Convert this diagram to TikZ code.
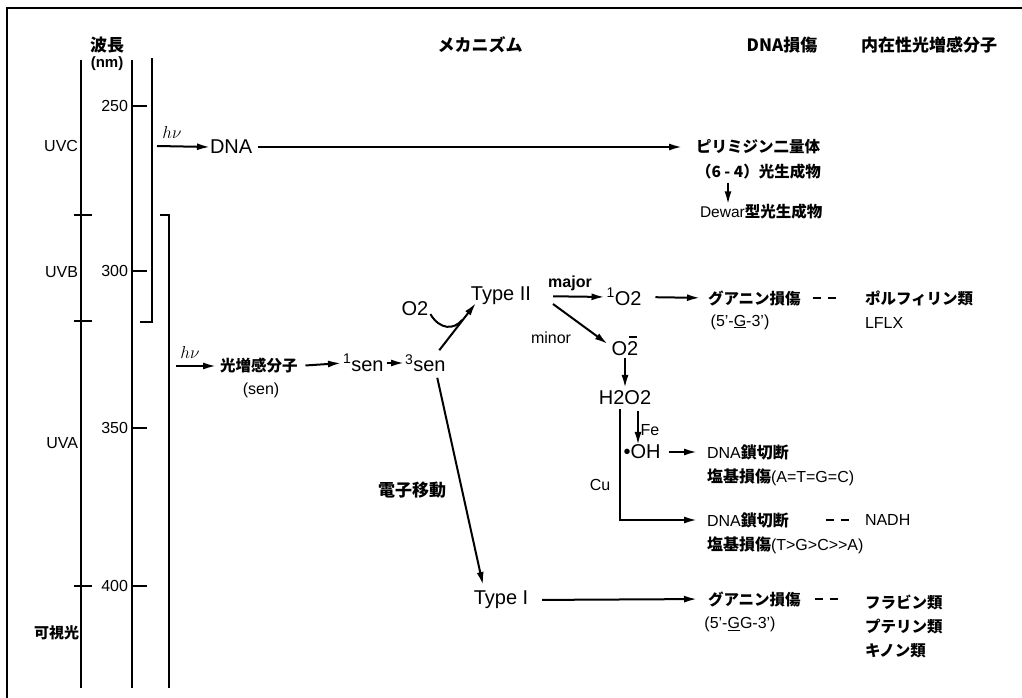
\documentclass[tikz,border=0pt]{standalone}
\usepackage{fontspec}
\setmainfont{Liberation Sans}
\newfontfamily\jp{Noto Sans CJK JP}
\usetikzlibrary{arrows.meta,calc}
\begin{document}
\begin{tikzpicture}[x=1pt,y=-1pt,
  every node/.style={inner sep=0pt,outer sep=0pt},
  ax/.style={line width=2.3pt},
  arr/.style={line width=2pt,-{Latex[length=13pt,width=7pt]}},
  dashpair/.style={line width=2pt,dash pattern=on 8pt off 7pt},
  bigt/.style={font=\fontsize{20}{24}\selectfont},
  midt/.style={font=\fontsize{16}{19}\selectfont},
  jt/.style={font=\fontsize{15.5}{18}\selectfont\jp\bfseries},
  hdr/.style={font=\fontsize{17}{20}\selectfont\jp\bfseries},
]
\useasboundingbox (0,0) rectangle (1022,698);
% frame
\draw[line width=1.8pt] (6,8) -- (1022,8);
\draw[line width=1.8pt] (7,8) -- (7,698);
% wavelength axis
\draw[ax] (81,60) -- (81,688);
\draw[ax] (132,60) -- (132,688);
\draw[ax] (140,322) -- (152,322) -- (152,58);
\draw[ax] (160,215) -- (169,215) -- (169,688);
\foreach \y in {215,321,586} \draw[line width=1.6pt] (74,\y) -- (92,\y);
\foreach \y in {106,271,428,586} \draw[ax] (132,\y) -- (147,\y);
\node[midt,anchor=east] (t250) at (128,106) {250};
\node[midt,anchor=east] (t300) at (128,271) {300};
\node[midt,anchor=east] (t350) at (128,428) {350};
\node[midt,anchor=east] (t400) at (128,586) {400};
\node[midt,anchor=east] (uvc) at (78,146) {UVC};
\node[midt,anchor=east] (uvb) at (78,272) {UVB};
\node[midt,anchor=east] (uva) at (78,443) {UVA};
\node[jt,font=\fontsize{15}{18}\selectfont\jp\bfseries,anchor=east] (vis) at (79,633) {可視光};
% headers
\node[hdr] (hwave) at (107,45) {波長};
\node[font=\fontsize{15}{18}\selectfont\bfseries] (hnm) at (107,64) {(nm)};
\node[hdr] (hmech) at (480,45) {メカニズム};
\node[hdr] (hdna) at (782,45) {DNA損傷};
\node[hdr] (hsens) at (929,45) {内在性光増感分子};
% UVC direct path
\coordinate (hv1s) at (157,146);
\node[bigt,anchor=west] (dna) at (210,147) {DNA};
\node[font=\fontsize{18}{20}\selectfont\itshape] (hv1) at (172,133) {$h\nu$};
\draw[arr] (hv1s) -- (dna.west);
\node[jt,anchor=west] (pyr) at (696,147) {ピリミジン二量体};
\node[jt,anchor=west] (p64) at (696,172) {（6 - 4）光生成物};
\node[jt,anchor=west] (dewar) at (700,212) {\rmfamily\mdseries\fontsize{15.5}{18}\selectfont Dewar\jp\bfseries 型光生成物};
\draw[arr,shorten <=6pt,shorten >=14pt] (dna.east) -- (dna.east -| pyr.west);
\coordinate (dw1) at ($(p64.south west)+(32,3)$);
\draw[arr] (dw1) -- (dw1 |- dewar.north);
% photosensitizer path
\coordinate (hv2s) at (176,366);
\node[font=\fontsize{18}{20}\selectfont\itshape] (hv2) at (190,352) {$h\nu$};
\node[jt,anchor=west] (sens) at (220,366) {光増感分子};
\node[midt] (senl) at (261,390) {(sen)};
\node[bigt,anchor=west] (sen1) at (343,363) {\textsuperscript{1}sen};
\node[bigt,anchor=west] (sen3) at (405,363) {\textsuperscript{3}sen};
\draw[arr,shorten >=4pt] (hv2s) -- (sens.west);
\draw[arr,shorten <=8pt,shorten >=2pt] (sens.east) -- (sen1.west);
\draw[arr,shorten <=3pt,shorten >=1pt] (sen1.east) -- (sen3.west);
% Type II
\node[bigt] (o2) at (415,309) {O2};
\node[bigt] (type2) at (501,296) {Type II};
\draw[arr] ($(sen3.north)+(14,-4)$) -- ($(type2.south west)+(5,-2)$);
\draw[line width=2pt] ($(o2.south east)+(2,-2)$) .. controls (440,330) and (454,330) .. (462,320);
\node[font=\fontsize{16}{19}\selectfont\bfseries] (major) at (570,283) {major};
\node[midt] (minor) at (551,338) {minor};
\node[bigt] (o2s) at (624,297) {\textsuperscript{1}O2};
\node[bigt] (o2m) at (625,346) {O\shortstack{\rule{8pt}{2pt}\\[0pt]2}};
\node[bigt] (h2o2) at (625,398) {H2O2};
\draw[arr,shorten <=22pt,shorten >=2pt] (type2.east) -- (o2s.west);
\draw[arr] ($(type2.east)+(22,8)$) -- ($(o2m.west)+(-4,-2)$);
\draw[arr,shorten <=2pt,shorten >=3pt] (o2m.south) -- (h2o2.north);
% singlet oxygen damage
\node[jt,anchor=west] (gua1) at (708,298) {グアニン損傷};
\node[midt] (gua1b) at (740,322) {(5'-\underline{G}-3')};
\node[jt,anchor=west] (por) at (865,298) {ポルフィリン類};
\node[midt,anchor=west] (lflx) at (865,323) {LFLX};
\draw[arr,shorten <=14pt,shorten >=8pt] (o2s.east) -- (gua1.west);
\draw[dashpair] ($(gua1.east)+(12,0)$) -- ++(24,0);
% hydroxyl radical / Cu
\node[bigt] (oh) at (642,452) {\textbullet OH};
\node[midt] (fe) at (650,430) {Fe};
\node[midt] (cu) at (600,485) {Cu};
\node[midt,anchor=west] (cut1) at (707,452) {DNA{\jp\bfseries 鎖切断}};
\node[midt,anchor=west] (base1) at (707,477) {{\jp\bfseries 塩基損傷}(A=T=G=C)};
\node[midt,anchor=west] (cut2) at (707,520) {DNA{\jp\bfseries 鎖切断}};
\node[midt,anchor=west] (nadh) at (865,520) {NADH};
\node[midt,anchor=west] (base2) at (707,545) {{\jp\bfseries 塩基損傷}(T>G>C>{}>A)};
\draw[arr] ($(h2o2.south)+(-5,4)$) |- ($(cut2.west)+(-10,0)$);
\coordinate (fe1) at ($(h2o2.south)+(13,6)$);
\draw[arr] (fe1) -- (fe1 |- oh.north);
\draw[arr,shorten <=8pt,shorten >=10pt] (oh.east) -- (cut1.west);
\draw[dashpair] ($(cut2.east)+(37,0)$) -- ++(23,0);
% Type I
\node[bigt] (type1) at (501,600) {Type I};
\node[hdr] (etr) at (412,490) {電子移動};
\draw[arr] ($(sen3.south)+(12,6)$) -- ($(type1.north)+(-18,-6)$);
\node[jt,anchor=west] (gua2) at (708,599) {グアニン損傷};
\node[midt] (gua2b) at (740,624) {(5'-\underline{G}G-3')};
\node[jt,anchor=west] (fla) at (865,602) {フラビン類};
\node[jt,anchor=west] (pte) at (865,627) {プテリン類};
\node[jt,anchor=west] (qui) at (865,651) {キノン類};
\draw[arr,shorten <=14pt,shorten >=11pt] (type1.east) -- (gua2.west);
\draw[dashpair] ($(gua2.east)+(14,0)$) -- ++(24,0);
\end{tikzpicture}
\end{document}
